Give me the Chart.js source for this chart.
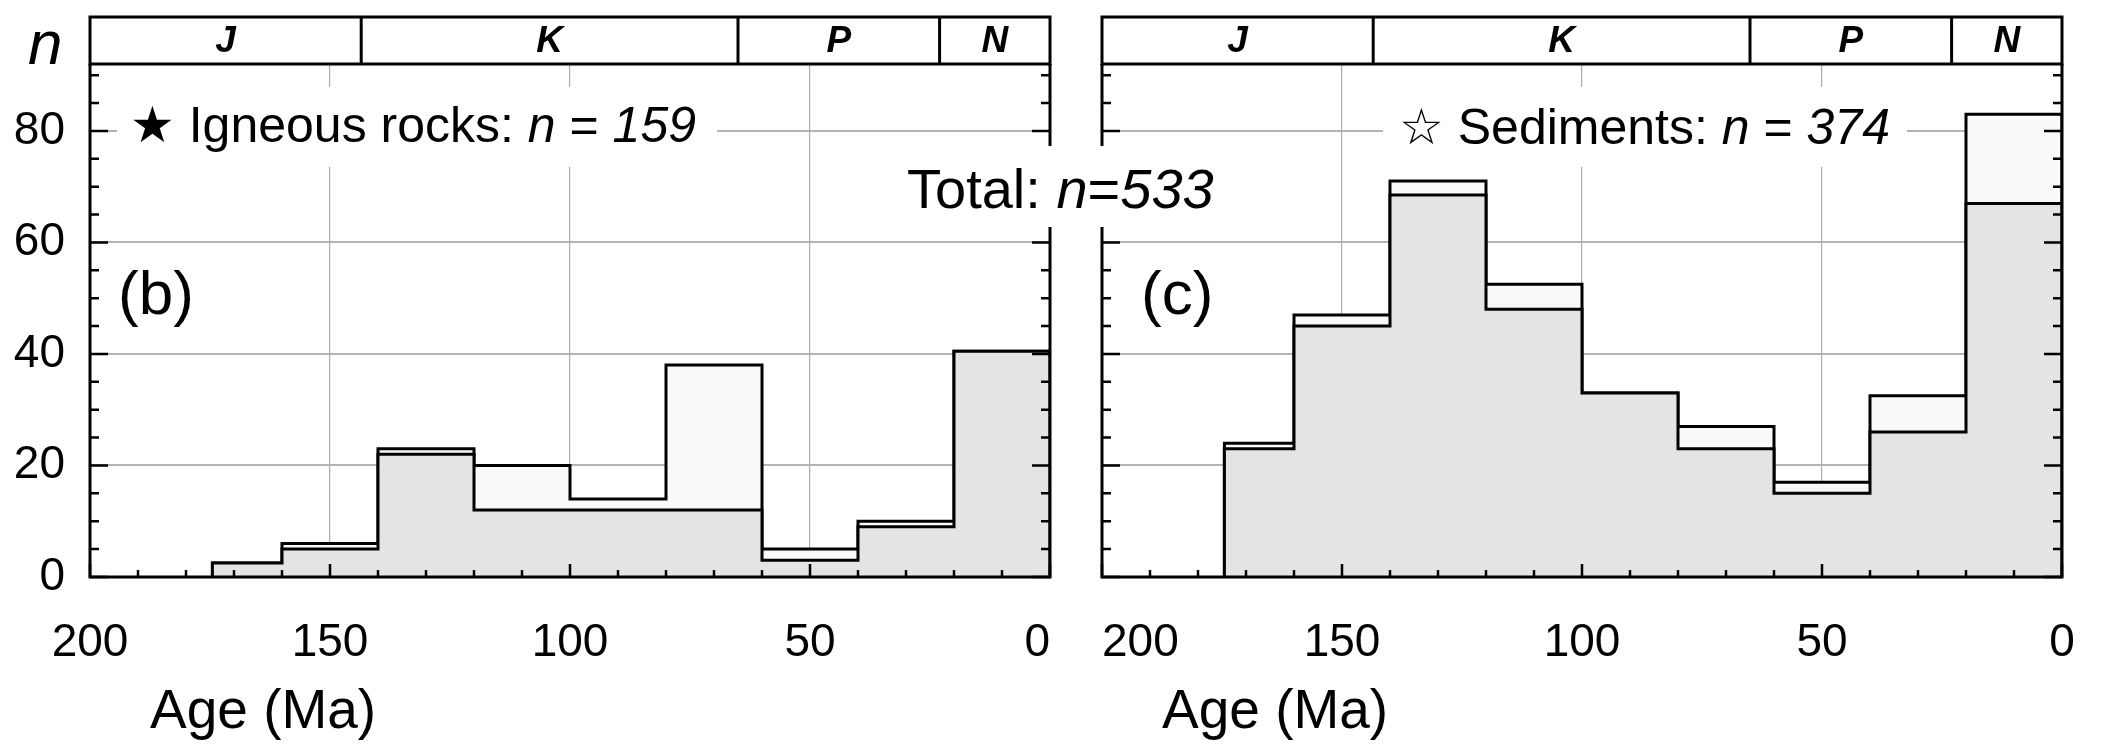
<!DOCTYPE html>
<html>
<head>
<meta charset="utf-8">
<script src="https://cdn.jsdelivr.net/npm/chart.js@4.4.1/dist/chart.umd.min.js"></script>
<style>
  html, body { margin: 0; padding: 0; background: #fff; }
  body { width: 2101px; height: 747px; position: relative; overflow: hidden; font-family: "Liberation Sans", Arial, sans-serif; }
  canvas { position: absolute; top: 0; }
  #chartB { left: 0; }
  #chartC { left: 1060px; }
  .box { position: absolute; background: #fff; z-index: 2; }
  .txt { position: absolute; white-space: nowrap; line-height: 1; color: #000; z-index: 3; }
  .star { font-family: "DejaVu Sans", sans-serif; }
</style>
</head>
<body>
<canvas id="chartB" width="1070" height="747"></canvas>
<canvas id="chartC" width="1041" height="747"></canvas>

<div class="box" style="left:117px;top:87px;width:600px;height:80px"></div>
<div class="box" style="left:1383px;top:87px;width:524px;height:80px"></div>
<div class="box" style="left:895px;top:146px;width:330px;height:81px"></div>

<div class="txt" style="left:28px;top:12px;font-size:62px;font-style:italic">n</div>
<div class="txt" style="left:130px;top:100px;font-size:50px"><span class="star">★</span> Igneous rocks: <i>n</i> = <i>159</i></div>
<div class="txt" style="left:1399px;top:102px;font-size:50px"><span class="star">☆</span> Sediments: <i>n</i> = <i>374</i></div>
<div class="txt" style="left:907px;top:161px;font-size:56px">Total: <i>n</i>=<i>533</i></div>
<div class="txt" style="left:118px;top:262px;font-size:62px">(b)</div>
<div class="txt" style="left:1141px;top:262px;font-size:62px">(c)</div>
<div class="txt" style="left:150px;top:682px;font-size:55px">Age (Ma)</div>
<div class="txt" style="left:1162px;top:682px;font-size:55px">Age (Ma)</div>

<script>
// bin edges (Ma), oldest first
const binEdges = [174.5, 160, 140, 120, 100, 80, 60, 40, 20, 0];

// (b) igneous rocks
const igneousAll = [2.5, 6, 23, 20, 14, 38, 5, 10, 40.5];
const igneousLower = [2.5, 5, 22, 12, 12, 12, 3, 9, 40.5];

// (c) sediments
const sedimentAll = [24, 47, 71, 52.5, 33, 27, 17, 32.5, 83];
const sedimentLower = [23, 45, 68.5, 48, 33, 23, 15, 26, 67];

// geological periods bar
const eraNames = ["J", "K", "P", "N"];
const eraBounds = [200, 143.5, 65, 23, 0];

const xTicks = [200, 150, 100, 50, 0];
const yTicks = [0, 20, 40, 60, 80];

Chart.defaults.font.family = '"Liberation Sans", Arial, sans-serif';
Chart.defaults.color = "#000";

function stepPoints(values) {
  const pts = [{ x: binEdges[0], y: 0 }];
  values.forEach((v, i) => pts.push({ x: binEdges[i], y: v }));
  const last = binEdges[binEdges.length - 1];
  pts.push({ x: last, y: values[values.length - 1] });
  pts.push({ x: last, y: 0 });
  return pts;
}

const framePlugin = {
  id: "frame",
  afterDatasetsDraw(chart) {
    const { ctx, chartArea: a } = chart;
    const x = chart.scales.x;
    const y = chart.scales.y;
    ctx.save();
    ctx.strokeStyle = "#000";
    ctx.lineWidth = 2.5;
    ctx.beginPath();
    for (let v = 0; v <= 90; v += 5) {
      const py = y.getPixelForValue(v);
      const len = v % 20 === 0 ? 18 : 9;
      ctx.moveTo(a.left, py);
      ctx.lineTo(a.left + len, py);
      ctx.moveTo(a.right, py);
      ctx.lineTo(a.right - len, py);
    }
    for (let v = 0; v <= 200; v += 10) {
      const px = x.getPixelForValue(v);
      const len = v % 50 === 0 ? 13 : 7;
      ctx.moveTo(px, a.bottom);
      ctx.lineTo(px, a.bottom - len);
    }
    ctx.stroke();

    ctx.lineWidth = 3;
    ctx.beginPath();
    ctx.moveTo(a.left, a.top);
    ctx.lineTo(a.left, a.bottom);
    ctx.lineTo(a.right, a.bottom);
    ctx.lineTo(a.right, a.top);
    ctx.stroke();

    // period bar on top
    const top = 17;
    ctx.strokeRect(a.left, top, a.right - a.left, a.top - top);
    ctx.beginPath();
    for (let i = 1; i < eraBounds.length - 1; i++) {
      const px = x.getPixelForValue(eraBounds[i]);
      ctx.moveTo(px, top);
      ctx.lineTo(px, a.top);
    }
    ctx.stroke();
    ctx.fillStyle = "#000";
    ctx.font = 'italic bold 37px "Liberation Sans", Arial, sans-serif';
    ctx.textAlign = "center";
    ctx.textBaseline = "middle";
    eraNames.forEach((name, i) => {
      const x0 = x.getPixelForValue(eraBounds[i]);
      const x1 = x.getPixelForValue(eraBounds[i + 1]);
      ctx.fillText(name, (x0 + x1) / 2, (top + a.top) / 2 + 1);
    });
    ctx.restore();
  },
};

function makePanel(id, allValues, lowerValues, showYLabels, yWidth, rightPad, xLabel) {
  const ctx = document.getElementById(id);
  return new Chart(ctx, {
    type: "line",
    data: {
      datasets: [
        {
          label: "lower",
          data: stepPoints(lowerValues),
          stepped: true,
          fill: "origin",
          backgroundColor: "#e4e4e4",
          borderColor: "#000",
          borderWidth: 3,
          pointRadius: 0,
          order: 0,
        },
        {
          label: "all",
          data: stepPoints(allValues),
          stepped: true,
          fill: "origin",
          backgroundColor: "#f9f9f9",
          borderColor: "#000",
          borderWidth: 3,
          pointRadius: 0,
          order: 1,
        },
      ],
    },
    options: {
      responsive: false,
      animation: false,
      devicePixelRatio: 1,
      layout: { padding: { top: 64, right: rightPad, left: 0, bottom: 0 } },
      plugins: { legend: { display: false }, tooltip: { enabled: false } },
      scales: {
        x: {
          type: "linear",
          reverse: true,
          min: 0,
          max: 200,
          afterBuildTicks: (s) => {
            s.ticks = xTicks.map((v) => ({ value: v }));
          },
          ticks: { font: { size: 46 }, padding: 39, maxRotation: 0, autoSkip: false, callback: xLabel },
          grid: {
            drawTicks: false,
            lineWidth: 1.2,
            color: (c) => (c.tick && c.tick.value % 200 !== 0 ? "#ababab" : "rgba(0,0,0,0)"),
          },
          border: { display: false },
          afterFit: (s) => {
            s.height = 170;
            s.paddingLeft = 0;
            s.paddingRight = 0;
          },
        },
        y: {
          min: 0,
          max: 92,
          afterBuildTicks: (s) => {
            s.ticks = yTicks.map((v) => ({ value: v }));
          },
          ticks: { display: showYLabels, font: { size: 46 }, padding: 25 },
          grid: {
            drawTicks: false,
            lineWidth: 2,
            color: (c) => (c.tick && c.tick.value > 0 ? "#b3b3b3" : "rgba(0,0,0,0)"),
          },
          border: { display: false },
          afterFit: (s) => {
            s.width = yWidth;
            s.paddingTop = 0;
            s.paddingBottom = 0;
          },
        },
      },
    },
    plugins: [framePlugin],
  });
}

// end labels pushed inward so the two panels' "0" and "200" don't collide
makePanel("chartB", igneousAll, igneousLower, true, 90, 20, (v) => (v === 0 ? "0  " : String(v)));
makePanel("chartC", sedimentAll, sedimentLower, false, 42, 39, (v) => (v === 200 ? "      200" : String(v)));
</script>
</body>
</html>
